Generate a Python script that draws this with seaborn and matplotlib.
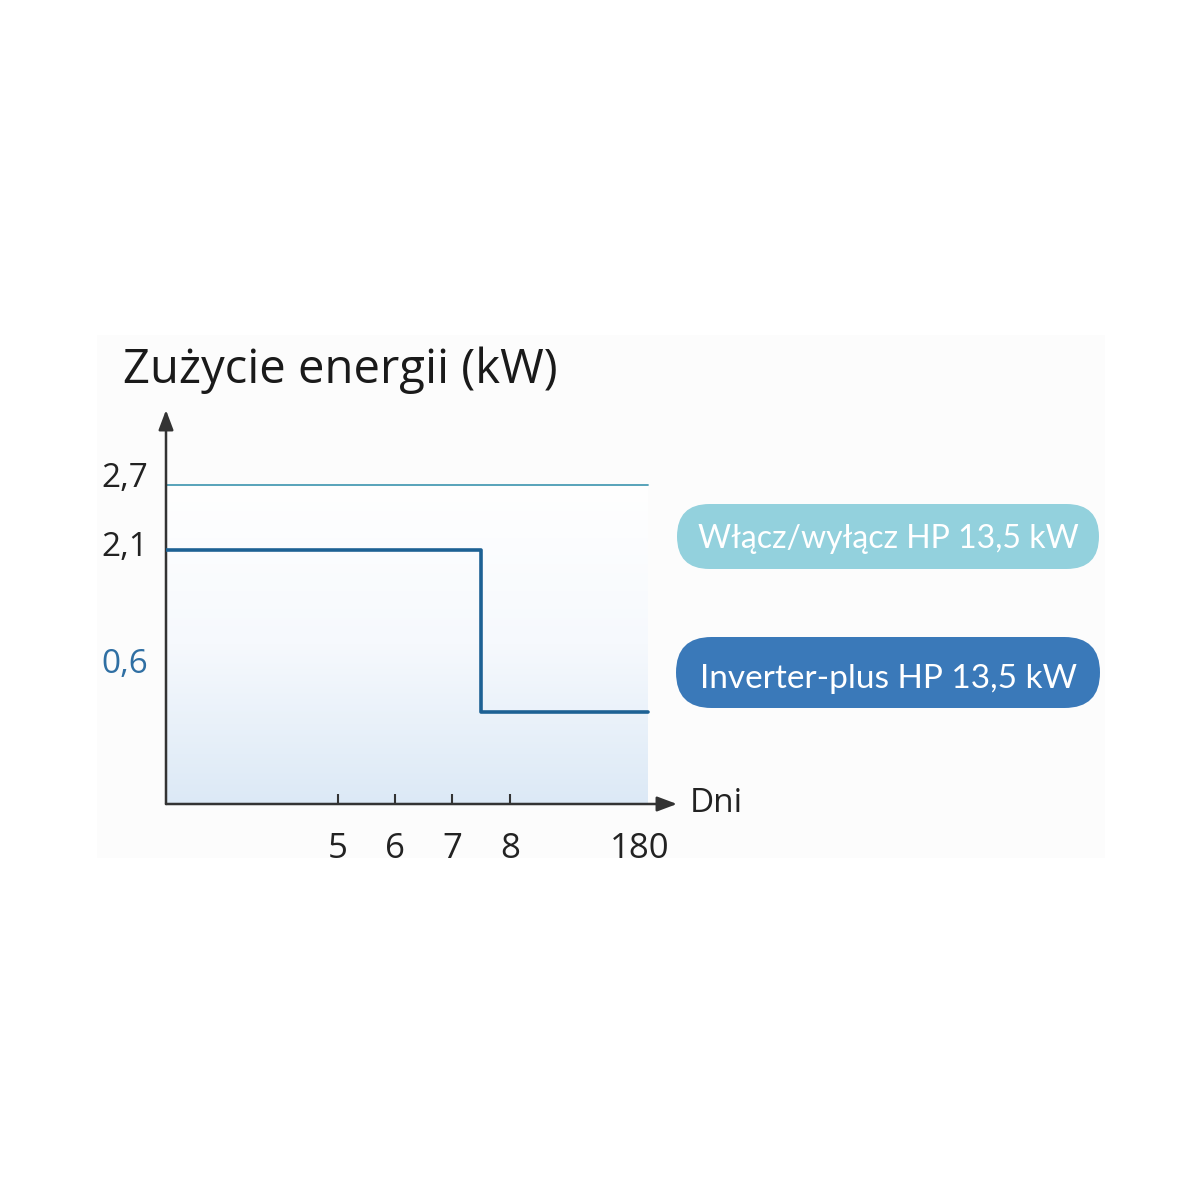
import numpy as np
import seaborn as sns
import matplotlib.pyplot as plt
from matplotlib.patches import FancyBboxPatch, Rectangle
from matplotlib.colors import LinearSegmentedColormap

# schematic day axis: 5..8 are real spacing, 180 squeezed at the end
DAY_LABELS = ["5", "6", "7", "8"]
DAY_POS = [5, 6, 7, 8]
END_LABEL = "180"
END_POS = 10.27

# series (x on schematic day axis, y in kW)
onoff_x = [2.0, 10.41]
onoff_y = [2.7, 2.7]
inverter_x = [2.0, 7.5, 10.41]
inverter_y = [2.1, 0.6, 0.6]

Y_TICKS = [2.7, 2.1, 0.6]
Y_LABELS = ["2,7", "2,1", "0,6"]
Y_LABEL_COLORS = ["#222222", "#222222", "#2f6fa3"]
Y_LABEL_SHIFT = [6, 2, 48]  # px up from the value

TITLE = "Zużycie energii (kW)"
XLABEL = "Dni"
LEGEND = ["Włącz/wyłącz HP 13,5 kW", "Inverter-plus HP 13,5 kW"]
LEGEND_COLORS = ["#93d1dd", "#3a79b9"]
LEGEND_SIZES = [23, 24]

sns.set_style("white")
plt.rcParams["font.family"] = ["Open Sans", "DejaVu Sans"]

fig = plt.figure(figsize=(12, 12), dpi=100)
fig.patch.set_facecolor("white")
fig.patches.append(Rectangle((97 / 1200, 1 - 858 / 1200), 1008 / 1200, 523 / 1200,
                             transform=fig.transFigure, facecolor="#fcfcfc",
                             edgecolor="none", zorder=-5))

ax = fig.add_axes([166 / 1200, 1 - 804 / 1200, 511 / 1200, 394 / 1200])
ax.set_facecolor("none")
ax.set_zorder(1)
ymin, ymax = -0.245, 3.39
ax.set_xlim(2.0, 10.92)
ax.set_ylim(ymin, ymax)

# gradient fill under the curves
cmap = LinearSegmentedColormap.from_list("fill", ["#dce9f6", "#f6f9fd", "#ffffff"])
grad = np.linspace(0, 1, 256).reshape(-1, 1)
ax.imshow(grad, cmap=cmap, origin="lower", aspect="auto",
          extent=[onoff_x[0], onoff_x[-1], ymin, onoff_y[0]], zorder=0)

sns.lineplot(x=onoff_x, y=onoff_y, ax=ax, color="#4a9cb4", linewidth=1.3, zorder=3)
sns.lineplot(x=inverter_x, y=inverter_y, ax=ax, color="#1d6194", linewidth=2.6,
             drawstyle="steps-post", zorder=4, solid_joinstyle="round")

sns.despine(ax=ax, left=True, bottom=True, right=True, top=True)

# axes with arrows
arrow = dict(arrowstyle="-|>,head_length=1.2,head_width=0.45", color="#333333",
             lw=1.8, shrinkA=0, shrinkB=0)
ax.annotate("", xy=(0, 1), xytext=(0, 0), xycoords="axes fraction", arrowprops=arrow)
ax.annotate("", xy=(1, 0), xytext=(0, 0), xycoords="axes fraction", arrowprops=arrow)

ax.set_xticks(DAY_POS)
ax.set_xticklabels(DAY_LABELS)
ax.set_xticks([END_POS], [END_LABEL], minor=True)
ax.tick_params(axis="x", which="major", direction="in", length=7, width=1.5,
               color="#333333", pad=20, labelsize=25, labelcolor="#222222", bottom=True)
ax.tick_params(axis="x", which="minor", length=0, pad=20, labelsize=25,
               labelcolor="#222222", bottom=True)
ax.set_yticks([])
ax.set_xlabel("")
ax.set_ylabel("")

for v, lab, c, s in zip(Y_TICKS, Y_LABELS, Y_LABEL_COLORS, Y_LABEL_SHIFT):
    ax.annotate(lab, xy=(0, v), xycoords=("axes fraction", "data"),
                xytext=(-13, s * 0.72), textcoords="offset points",
                ha="right", va="center", fontsize=24, color=c)

ax.annotate(XLABEL, xy=(1, 0), xycoords="axes fraction", xytext=(9, 0),
            textcoords="offset points", ha="left", va="center",
            fontsize=24, color="#222222")

fig.text(123 / 1200, 1 - 383 / 1200, TITLE, fontsize=34, color="#1a1a1a",
         ha="left", va="baseline")

# legend pills
pills = [(677, 504, 1099, 569), (676, 637, 1100, 708)]
baselines = [548, 688]
for (x0, y0, x1, y1), lab, col, fs, bl in zip(pills, LEGEND, LEGEND_COLORS,
                                              LEGEND_SIZES, baselines):
    h = (y1 - y0) / 1200
    box = FancyBboxPatch((x0 / 1200, 1 - y1 / 1200), (x1 - x0) / 1200, h,
                         boxstyle=f"round,pad=0,rounding_size={h / 2}",
                         transform=fig.transFigure, facecolor=col,
                         edgecolor="none", zorder=2)
    fig.patches.append(box)
    fig.text((x0 + x1) / 2 / 1200, 1 - bl / 1200, lab, color="white",
             fontsize=fs, ha="center", va="baseline", zorder=3,
             family=["Lato", "DejaVu Sans"])

fig.savefig("out.png", dpi=100)
